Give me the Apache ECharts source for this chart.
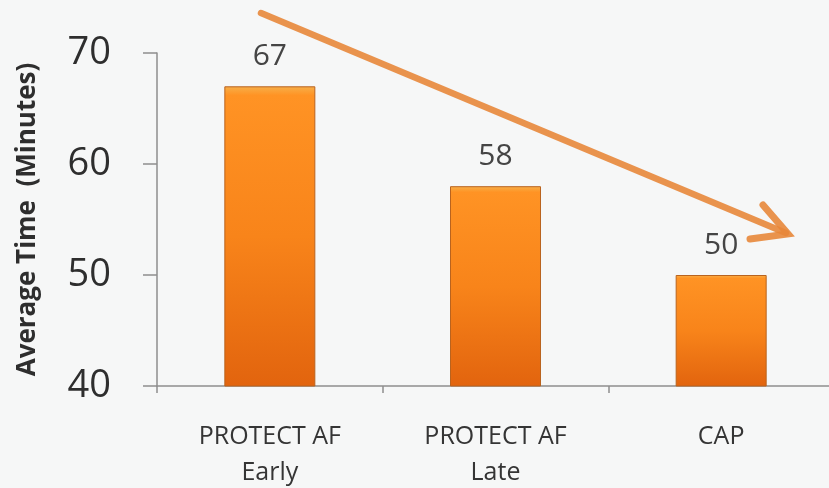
<!DOCTYPE html>
<html>
<head>
<meta charset="utf-8">
<script src="https://cdn.jsdelivr.net/npm/echarts@6/dist/echarts.min.js"></script>
<style>
html,body{margin:0;padding:0;background:#F6F7F7;}
#chart{width:829px;height:488px;}
</style>
</head>
<body>
<div id="chart"></div>
<script>
var categories = ['PROTECT AF\nEarly', 'PROTECT AF\nLate', 'CAP'];
var avgTime = [67, 58, 50];
var yTicks = [40, 50, 60, 70];
var yName = 'Average Time  (Minutes)';

var chart = echarts.init(document.getElementById('chart'));
var font = 'Open Sans';
chart.setOption({
  backgroundColor: '#F6F7F7',
  animation: false,
  grid: { left: 157, top: 53, width: 677, bottom: 102, outerBoundsMode: 'none', containLabel: false },
  xAxis: {
    type: 'category',
    data: categories,
    axisLine: { lineStyle: { color: '#8E8E8E', width: 1.5 } },
    axisTick: { show: true, length: 7, lineStyle: { color: '#8E8E8E', width: 1.5 } },
    axisLabel: { color: '#353535', fontFamily: font, fontSize: 25, lineHeight: 36, margin: 33 }
  },
  yAxis: {
    type: 'value',
    min: yTicks[0], max: yTicks[yTicks.length - 1], interval: 10,
    name: yName,
    nameLocation: 'middle',
    nameGap: 116,
    nameTextStyle: { color: '#2E2E2E', fontFamily: font, fontSize: 26, fontWeight: 'bold' },
    axisLine: { show: true, lineStyle: { color: '#8E8E8E', width: 1.5 } },
    axisTick: { show: true, length: 14, lineStyle: { color: '#8E8E8E', width: 1.5 } },
    axisLabel: { color: '#2E2E2E', fontFamily: font, fontSize: 38, margin: 46 },
    splitLine: { show: false }
  },
  series: [{
    type: 'bar',
    data: avgTime,
    barWidth: 91,
    itemStyle: {
      color: new echarts.graphic.LinearGradient(0, 0, 0, 1, [
        { offset: 0, color: '#F7B04A' },
        { offset: 0.03, color: '#FF9324' },
        { offset: 0.5, color: '#F8841A' },
        { offset: 1, color: '#E2640E' }
      ]),
      borderColor: '#B9631E',
      borderWidth: 1
    },
    label: {
      show: true, position: 'top', distance: 15,
      color: '#454545', fontFamily: font, fontSize: 30
    }
  }],
  graphic: [{
    type: 'group',
    silent: true,
    children: [
      { type: 'line', shape: { x1: 261, y1: 13, x2: 786, y2: 233 },
        style: { stroke: '#E8873A', lineWidth: 6.5, lineCap: 'round', opacity: 0.9 } },
      { type: 'polyline', shape: { points: [[763, 205], [788, 234], [750, 239]] },
        style: { stroke: '#E8873A', lineWidth: 7, lineCap: 'round', lineJoin: 'miter', fill: null, opacity: 0.9 } }
    ]
  }]
});
</script>
</body>
</html>
